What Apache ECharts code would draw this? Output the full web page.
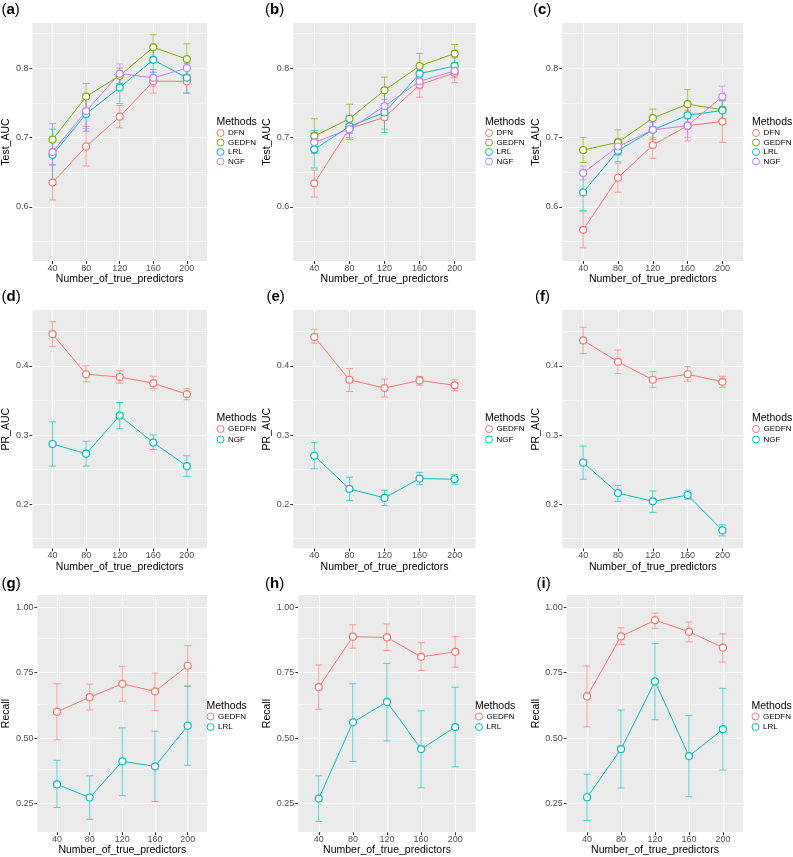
<!DOCTYPE html>
<html><head><meta charset="utf-8">
<script src="https://cdn.jsdelivr.net/npm/echarts@6/dist/echarts.min.js"></script>
<style>html,body{margin:0;padding:0;background:#fff}#c{width:793px;height:857px}</style>
</head><body><div id="c"></div>
<script>
// ---------- data ----------
const xValues = [40, 80, 120, 160, 200];
const aucTicks = [0.6, 0.7, 0.8];
const aucMinor = [0.55, 0.65, 0.75, 0.85];
const prTicks = [0.2, 0.3, 0.4];
const prMinor = [0.15, 0.25, 0.35, 0.45];
const recallTicks = [0.25, 0.5, 0.75, 1.0];
const recallMinor = [0.375, 0.625, 0.875];

// (a) Test_AUC
const a_DFN = [0.635, 0.687, 0.730, 0.781, 0.781];
const a_DFN_lo = [0.610, 0.659, 0.714, 0.764, 0.764];
const a_DFN_hi = [0.660, 0.716, 0.746, 0.798, 0.798];
const a_GEDFN = [0.697, 0.759, 0.789, 0.830, 0.813];
const a_GEDFN_lo = [0.674, 0.740, 0.778, 0.812, 0.791];
const a_GEDFN_hi = [0.720, 0.778, 0.800, 0.848, 0.835];
const a_LRL = [0.675, 0.734, 0.772, 0.812, 0.786];
const a_LRL_lo = [0.638, 0.709, 0.749, 0.794, 0.764];
const a_LRL_hi = [0.712, 0.759, 0.795, 0.830, 0.807];
const a_NGF = [0.679, 0.738, 0.792, 0.786, 0.800];
const a_NGF_lo = [0.661, 0.713, 0.778, 0.774, 0.786];
const a_NGF_hi = [0.697, 0.763, 0.806, 0.798, 0.814];
// (b) Test_AUC
const b_DFN = [0.634, 0.713, 0.729, 0.776, 0.793];
const b_DFN_lo = [0.614, 0.697, 0.712, 0.758, 0.779];
const b_DFN_hi = [0.653, 0.730, 0.746, 0.794, 0.807];
const b_GEDFN = [0.702, 0.727, 0.768, 0.803, 0.821];
const b_GEDFN_lo = [0.677, 0.706, 0.749, 0.785, 0.808];
const b_GEDFN_hi = [0.727, 0.748, 0.787, 0.821, 0.834];
const b_LRL = [0.683, 0.716, 0.736, 0.792, 0.803];
const b_LRL_lo = [0.656, 0.700, 0.707, 0.778, 0.791];
const b_LRL_hi = [0.710, 0.732, 0.765, 0.806, 0.815];
const b_NGF = [0.693, 0.712, 0.745, 0.781, 0.796];
const b_NGF_lo = [0.679, 0.697, 0.735, 0.770, 0.786];
const b_NGF_hi = [0.707, 0.727, 0.755, 0.792, 0.806];
// (c) Test_AUC
const c_DFN = [0.567, 0.642, 0.689, 0.717, 0.723];
const c_DFN_lo = [0.541, 0.621, 0.670, 0.695, 0.693];
const c_DFN_hi = [0.593, 0.663, 0.708, 0.739, 0.753];
const c_GEDFN = [0.682, 0.693, 0.728, 0.748, 0.740];
const c_GEDFN_lo = [0.664, 0.675, 0.715, 0.727, 0.720];
const c_GEDFN_hi = [0.700, 0.711, 0.741, 0.769, 0.760];
const c_LRL = [0.621, 0.681, 0.711, 0.732, 0.739];
const c_LRL_lo = [0.595, 0.665, 0.697, 0.718, 0.725];
const c_LRL_hi = [0.647, 0.697, 0.725, 0.746, 0.753];
const c_NGF = [0.649, 0.687, 0.711, 0.717, 0.759];
const c_NGF_lo = [0.639, 0.675, 0.700, 0.700, 0.744];
const c_NGF_hi = [0.659, 0.699, 0.722, 0.734, 0.774];
// (d) PR_AUC
const d_GEDFN = [0.446, 0.388, 0.384, 0.375, 0.359];
const d_GEDFN_lo = [0.428, 0.377, 0.375, 0.367, 0.351];
const d_GEDFN_hi = [0.464, 0.400, 0.393, 0.385, 0.367];
const d_NGF = [0.287, 0.273, 0.328, 0.289, 0.255];
const d_NGF_lo = [0.255, 0.255, 0.309, 0.279, 0.240];
const d_NGF_hi = [0.319, 0.291, 0.347, 0.300, 0.270];
// (e) PR_AUC
const e_GEDFN = [0.442, 0.380, 0.368, 0.379, 0.372];
const e_GEDFN_lo = [0.433, 0.363, 0.355, 0.372, 0.364];
const e_GEDFN_hi = [0.453, 0.396, 0.381, 0.385, 0.380];
const e_NGF = [0.270, 0.222, 0.209, 0.237, 0.236];
const e_NGF_lo = [0.251, 0.205, 0.198, 0.228, 0.229];
const e_NGF_hi = [0.289, 0.239, 0.220, 0.246, 0.243];
// (f) PR_AUC
const f_GEDFN = [0.437, 0.406, 0.380, 0.388, 0.377];
const f_GEDFN_lo = [0.418, 0.389, 0.369, 0.378, 0.369];
const f_GEDFN_hi = [0.456, 0.423, 0.392, 0.399, 0.385];
const f_NGF = [0.260, 0.216, 0.204, 0.213, 0.162];
const f_NGF_lo = [0.236, 0.204, 0.188, 0.207, 0.154];
const f_NGF_hi = [0.284, 0.227, 0.219, 0.220, 0.170];
// (g) Recall
const g_GEDFN = [0.600, 0.656, 0.707, 0.678, 0.776];
const g_GEDFN_lo = [0.493, 0.607, 0.640, 0.605, 0.698];
const g_GEDFN_hi = [0.707, 0.706, 0.774, 0.748, 0.853];
const g_LRL = [0.323, 0.273, 0.411, 0.392, 0.547];
const g_LRL_lo = [0.235, 0.190, 0.280, 0.258, 0.396];
const g_LRL_hi = [0.415, 0.356, 0.539, 0.526, 0.698];
// (h) Recall
const h_GEDFN = [0.694, 0.887, 0.884, 0.810, 0.829];
const h_GEDFN_lo = [0.610, 0.843, 0.834, 0.758, 0.770];
const h_GEDFN_hi = [0.779, 0.932, 0.936, 0.864, 0.887];
const h_LRL = [0.269, 0.560, 0.638, 0.458, 0.542];
const h_LRL_lo = [0.182, 0.411, 0.489, 0.310, 0.390];
const h_LRL_hi = [0.356, 0.707, 0.785, 0.604, 0.694];
// (i) Recall
const i_GEDFN = [0.659, 0.888, 0.950, 0.906, 0.845];
const i_GEDFN_lo = [0.543, 0.857, 0.919, 0.867, 0.790];
const i_GEDFN_hi = [0.775, 0.921, 0.977, 0.943, 0.898];
const i_LRL = [0.274, 0.458, 0.716, 0.431, 0.534];
const i_LRL_lo = [0.185, 0.309, 0.570, 0.276, 0.378];
const i_LRL_hi = [0.362, 0.607, 0.860, 0.585, 0.690];

// ---------- styling / layout ----------
const FONT = "'Liberation Sans', Arial, Helvetica, sans-serif";
const C4 = {DFN:'#F8766D', GEDFN:'#7CAE00', LRL:'#00BFC4', NGF:'#C77CFF'};
const C2 = {GEDFN:'#F8766D', NGF:'#00BFC4', LRL:'#00BFC4'};

const rows = {
  auc:    {min:0.522, max:0.865, ticks:aucTicks, minor:aucMinor, dec:1, name:'Test_AUC'},
  pr:     {min:0.136, max:0.481, ticks:prTicks, minor:prMinor, dec:1, name:'PR_AUC'},
  recall: {min:0.141, max:1.046, ticks:recallTicks, minor:recallMinor, dec:2, name:'Recall'}
};

const panels = [
  {lab:'a', row:'auc', L:25,    T:23,  W:182,   H:238, ygap:13, lx:1.5,  ly:2,    legL:216.5, legT:129,   mT:117,
   m:[['DFN',a_DFN,a_DFN_lo,a_DFN_hi],['GEDFN',a_GEDFN,a_GEDFN_lo,a_GEDFN_hi],['LRL',a_LRL,a_LRL_lo,a_LRL_hi],['NGF',a_NGF,a_NGF_lo,a_NGF_hi]]},
  {lab:'b', row:'auc', L:293.3, T:23,  W:182.4, H:238, ygap:15, lx:265,  ly:2,    legL:485,   legT:129,   mT:117,
   m:[['DFN',b_DFN,b_DFN_lo,b_DFN_hi],['GEDFN',b_GEDFN,b_GEDFN_lo,b_GEDFN_hi],['LRL',b_LRL,b_LRL_lo,b_LRL_hi],['NGF',b_NGF,b_NGF_lo,b_NGF_hi]]},
  {lab:'c', row:'auc', L:562.3, T:23,  W:181,   H:238, ygap:15.5, lx:533, ly:2,   legL:752,   legT:129,   mT:117,
   m:[['DFN',c_DFN,c_DFN_lo,c_DFN_hi],['GEDFN',c_GEDFN,c_GEDFN_lo,c_GEDFN_hi],['LRL',c_LRL,c_LRL_lo,c_LRL_hi],['NGF',c_NGF,c_NGF_lo,c_NGF_hi]]},
  {lab:'d', row:'pr', L:25,    T:310, W:182,   H:238.3, ygap:13, lx:1.5,  ly:289,  legL:216.5, legT:425,   mT:413,
   m:[['GEDFN',d_GEDFN,d_GEDFN_lo,d_GEDFN_hi],['NGF',d_NGF,d_NGF_lo,d_NGF_hi]]},
  {lab:'e', row:'pr', L:293.3, T:310, W:182.4, H:238.3, ygap:15, lx:266.5, ly:289, legL:485,   legT:425,   mT:413,
   m:[['GEDFN',e_GEDFN,e_GEDFN_lo,e_GEDFN_hi],['NGF',e_NGF,e_NGF_lo,e_NGF_hi]]},
  {lab:'f', row:'pr', L:562.3, T:310, W:181,   H:238.3, ygap:15.5, lx:535, ly:289, legL:752,   legT:425,   mT:413,
   m:[['GEDFN',f_GEDFN,f_GEDFN_lo,f_GEDFN_hi],['NGF',f_NGF,f_NGF_lo,f_NGF_hi]]},
  {lab:'g', row:'recall', L:30,  T:595, W:177.3, H:240, ygap:19, lx:1.5,  ly:576.5, legL:206.5, legT:712.5, mT:700.5,
   m:[['GEDFN',g_GEDFN,g_GEDFN_lo,g_GEDFN_hi],['LRL',g_LRL,g_LRL_lo,g_LRL_hi]]},
  {lab:'h', row:'recall', L:298.3, T:595, W:177.4, H:240, ygap:19, lx:265, ly:576.5, legL:475,   legT:712.5, mT:700.5,
   m:[['GEDFN',h_GEDFN,h_GEDFN_lo,h_GEDFN_hi],['LRL',h_LRL,h_LRL_lo,h_LRL_hi]]},
  {lab:'i', row:'recall', L:566.7, T:595, W:176.6, H:240, ygap:19, lx:536.5, ly:576.5, legL:751.5, legT:712.5, mT:700.5,
   m:[['GEDFN',i_GEDFN,i_GEDFN_lo,i_GEDFN_hi],['LRL',i_LRL,i_LRL_lo,i_LRL_hi]]}
];

const grid = [], xAxis = [], yAxis = [], series = [], legend = [], title = [];

panels.forEach((p, idx) => {
  const r = rows[p.row];
  const colors = p.m.length === 4 ? C4 : C2;
  grid.push({left:p.L, top:p.T, width:p.W, height:p.H, show:true, backgroundColor:'#EBEBEB', borderWidth:0, z:0});
  xAxis.push({
    gridIndex:idx, type:'value', min:16, max:224,
    axisLine:{show:false},
    axisTick:{show:true, length:3, lineStyle:{color:'#333', width:1}, customValues:xValues},
    axisLabel:{customValues:xValues, fontSize:9, color:'#4D4D4D', margin:3, fontFamily:FONT},
    splitLine:{show:false},
    name:'Number_of_true_predictors', nameLocation:'middle', nameGap:12,
    nameTextStyle:{fontSize:10.5, color:'#000', fontFamily:FONT}
  });
  yAxis.push({
    gridIndex:idx, type:'value', min:r.min, max:r.max,
    axisLine:{show:false},
    axisTick:{show:true, length:3, lineStyle:{color:'#333', width:1}, customValues:r.ticks},
    axisLabel:{customValues:r.ticks, fontSize:9, color:'#4D4D4D', margin:4, fontFamily:FONT,
               formatter:(v) => Number(v).toFixed(r.dec)},
    splitLine:{show:false},
    name:r.name, nameLocation:'middle', nameGap:p.ygap, nameRotate:90,
    nameTextStyle:{fontSize:10.5, color:'#000', fontFamily:FONT}
  });
  // gridlines (white) through the axis scales
  const gl = [];
  r.minor.forEach(v => gl.push({yAxis:v, lineStyle:{color:'#FFFFFF', width:0.5, type:'solid'}}));
  r.ticks.forEach(v => gl.push({yAxis:v, lineStyle:{color:'#FFFFFF', width:1.1, type:'solid'}}));
  xValues.forEach(v => gl.push({xAxis:v, lineStyle:{color:'#FFFFFF', width:1.1, type:'solid'}}));
  series.push({
    type:'line', name:'_grid'+idx, xAxisIndex:idx, yAxisIndex:idx, data:[], silent:true, z:1,
    markLine:{silent:true, z:1, symbol:['none','none'], label:{show:false}, animation:false,
              emphasis:{disabled:true}, lineStyle:{type:'solid'}, data:gl}
  });
  // error bars
  p.m.forEach(([name, mean, lo, hi]) => {
    const col = colors[name];
    series.push({
      type:'custom', name:name, xAxisIndex:idx, yAxisIndex:idx, z:2, silent:true,
      data:xValues.map((x, k) => [x, lo[k], hi[k]]),
      encode:{x:0, y:[1, 2]},
      renderItem:(params, api) => {
        const x = api.value(0);
        const top = api.coord([x, api.value(2)]);
        const bot = api.coord([x, api.value(1)]);
        const hw = 3.5;
        const style = {stroke:col, lineWidth:0.9, opacity:0.75, fill:null};
        return {type:'group', children:[
          {type:'line', shape:{x1:top[0], y1:top[1], x2:bot[0], y2:bot[1]}, style:style},
          {type:'line', shape:{x1:top[0]-hw, y1:top[1], x2:top[0]+hw, y2:top[1]}, style:style},
          {type:'line', shape:{x1:bot[0]-hw, y1:bot[1], x2:bot[0]+hw, y2:bot[1]}, style:style}
        ]};
      }
    });
  });
  // lines + points
  p.m.forEach(([name, mean]) => {
    const col = colors[name];
    series.push({
      type:'line', name:name, xAxisIndex:idx, yAxisIndex:idx, z:3,
      data:xValues.map((x, k) => [x, mean[k]]),
      symbol:'circle', symbolSize:7, showSymbol:true,
      lineStyle:{color:col, width:1},
      itemStyle:{color:'#FFFFFF', borderColor:col, borderWidth:1.2},
      emphasis:{disabled:true}
    });
  });
  legend.push({
    orient:'vertical', left:p.legL, top:p.legT, padding:0, itemGap:p.m.length === 4 ? 1.5 : 2.5,
    itemWidth:7, itemHeight:7, icon:'circle', selectedMode:false,
    textStyle:{fontSize:8, color:'#000', fontFamily:FONT, padding:[0,0,0,-1]},
    data:p.m.map(([name]) => ({name:name, itemStyle:{color:'rgba(255,255,255,0)', borderColor:colors[name], borderWidth:1}}))
  });
  title.push({
    text:'{p|(}{b|' + p.lab + '}{p|)}', left:p.lx, top:p.ly, padding:0,
    textStyle:{rich:{p:{fontSize:15, fontWeight:'normal', fontFamily:FONT, color:'#000'},
                     b:{fontSize:15, fontWeight:'bold', fontFamily:FONT, color:'#000'}}}
  });
  title.push({
    text:'Methods', left:p.legL, top:p.mT, padding:0,
    textStyle:{fontSize:10.5, fontWeight:'normal', color:'#000', fontFamily:FONT}
  });
});

const chart = echarts.init(document.getElementById('c'), null, {renderer:'canvas'});
chart.setOption({animation:false, backgroundColor:'#FFFFFF', grid, xAxis, yAxis, series, legend, title});
</script>
</body></html>
